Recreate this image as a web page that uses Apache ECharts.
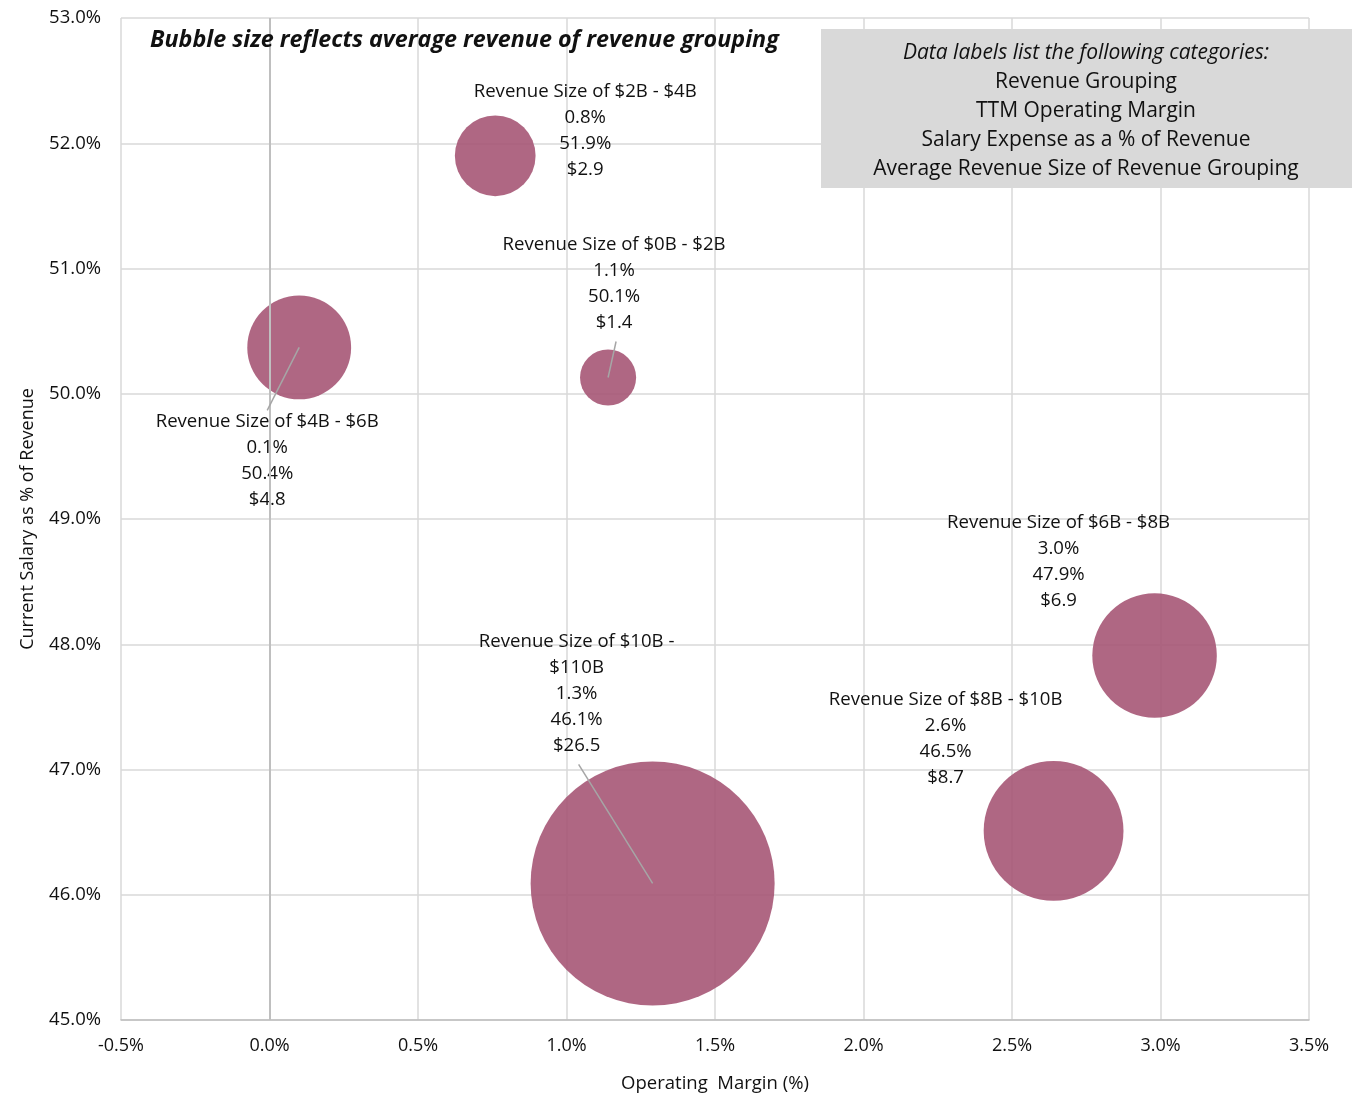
<!DOCTYPE html>
<html>
<head>
<meta charset="utf-8">
<title>Operating Margin vs Salary Expense by Revenue Grouping</title>
<script src="https://cdn.jsdelivr.net/npm/echarts@6/dist/echarts.min.js"></script>
<style>
  html, body { margin: 0; padding: 0; background: #ffffff; }
  #chart { width: 1364px; height: 1094px; }
</style>
</head>
<body>
<div id="chart"></div>
<script>
// Revenue groupings and their metrics
const groups = ['Revenue Size of $2B - $4B', 'Revenue Size of $0B - $2B', 'Revenue Size of $4B - $6B',
                'Revenue Size of $6B - $8B', 'Revenue Size of $8B - $10B', 'Revenue Size of $10B -\n$110B'];
const operatingMargin = [0.76, 1.14, 0.10, 2.98, 2.64, 1.29];     // TTM operating margin, %
const salaryPct = [51.9, 50.13, 50.37, 47.91, 46.51, 46.09];      // salary expense as % of revenue
const avgRevenue = [2.9, 1.4, 4.8, 6.9, 8.7, 26.5];               // average revenue, $B
const marginLabels = ['0.8%', '1.1%', '0.1%', '3.0%', '2.6%', '1.3%'];
const salaryLabels = ['51.9%', '50.1%', '50.4%', '47.9%', '46.5%', '46.1%'];
const xTicks = ['-0.5%', '0.0%', '0.5%', '1.0%', '1.5%', '2.0%', '2.5%', '3.0%', '3.5%'];
const yTicks = ['45.0%', '46.0%', '47.0%', '48.0%', '49.0%', '50.0%', '51.0%', '52.0%', '53.0%'];

// Label placement per grouping (pixel offsets of the label centre from the bubble centre)
const labelOffsets = [[90, -25], [6, -94], [-32, 113], [-96, -94], [-108, -92], [-76, -190]];
// Which labels get a leader line back to the bubble
const leaderLines = [false, true, true, false, false, true];

const FONT = '"Open Sans", "Noto Sans", sans-serif';
const BUBBLE = 'rgba(166, 86, 117, 0.9)';
const LINE_H = 26;
const TEXT = '#111111';

const chart = echarts.init(document.getElementById('chart'), null, { renderer: 'canvas' });

const bubbleScale = 47.4; // diameter in px per sqrt($B)

const seriesData = groups.map((g, i) => ({
  value: [operatingMargin[i], salaryPct[i], avgRevenue[i]],
  name: g,
  label: {
    show: true,
    position: 'inside',
    offset: labelOffsets[i],
    align: 'center',
    verticalAlign: 'middle',
    formatter: () => [g, marginLabels[i], salaryLabels[i], '$' + avgRevenue[i].toFixed(1)].join('\n')
  }
}));

const option = {
  backgroundColor: '#ffffff',
  animation: false,
  textStyle: { fontFamily: FONT },
  grid: { left: 121, right: 55, top: 18, bottom: 74, containLabel: false, outerBoundsMode: 'none' },
  xAxis: {
    type: 'value',
    min: -0.5, max: 3.5, interval: 0.5,
    name: 'Operating  Margin (%)',
    nameLocation: 'middle',
    nameGap: 54,
    nameTextStyle: { fontSize: 18.5, color: TEXT, fontFamily: FONT },
    axisLine: { show: true, onZero: false, lineStyle: { color: '#bfbfbf', width: 1.5 } },
    axisTick: { show: false },
    splitLine: { show: true, lineStyle: { color: '#d9d9d9', width: 1.5 } },
    axisLabel: {
      fontSize: 18, color: TEXT, margin: 17, fontFamily: FONT,
      formatter: v => xTicks[Math.round((v + 0.5) / 0.5)]
    }
  },
  yAxis: {
    type: 'value',
    min: 45, max: 53, interval: 1,
    name: 'Current Salary as % of Revenue',
    nameLocation: 'middle',
    nameGap: 84,
    nameRotate: 90,
    nameTextStyle: { fontSize: 18, color: TEXT, fontFamily: FONT },
    axisLine: { show: false },
    axisTick: { show: false },
    splitLine: { show: true, lineStyle: { color: '#d9d9d9', width: 1.5 } },
    axisLabel: {
      fontSize: 18.5, color: TEXT, margin: 20, fontFamily: FONT,
      formatter: v => yTicks[Math.round(v - 45)]
    }
  },
  series: [
    {
      // vertical axis crossing at 0% operating margin
      type: 'line',
      silent: true,
      data: [],
      markLine: {
        symbol: 'none',
        silent: true,
        label: { show: false },
        lineStyle: { color: '#bfbfbf', width: 2, type: 'solid' },
        data: [{ xAxis: 0 }]
      }
    },
    {
      type: 'scatter',
      data: seriesData,
      symbol: 'circle',
      symbolSize: d => bubbleScale * Math.sqrt(d[2]),
      itemStyle: { color: BUBBLE, opacity: 1 },
      label: {
        color: TEXT,
        fontSize: 18.6,
        lineHeight: LINE_H,
        fontFamily: FONT,
        textBorderWidth: 0,
        textBorderColor: 'transparent'
      },
      emphasis: { disabled: true },
      z: 3
    }
  ],
  graphic: []
};

chart.setOption(option);

// Leader lines, headline note and category key
function drawExtras() {
  const elements = [];
  groups.forEach((g, i) => {
    if (!leaderLines[i]) return;
    const c = chart.convertToPixel({ seriesIndex: 1 }, [operatingMargin[i], salaryPct[i]]);
    const lines = g.split('\n').length + 3;
    const half = lines * LINE_H / 2;
    const off = labelOffsets[i];
    const lx = c[0] + off[0];
    const ly = off[1] < 0 ? c[1] + off[1] + half + 6 : c[1] + off[1] - half + 2;
    elements.push({
      type: 'line',
      shape: { x1: c[0], y1: c[1], x2: lx + (off[1] < 0 ? 2 : 0), y2: ly },
      style: { stroke: '#a6a6a6', lineWidth: 1.5 },
      z: 100
    });
  });
  elements.push({
    type: 'text',
    left: 150, top: 29,
    style: {
      text: 'Bubble size reflects average revenue of revenue grouping',
      fontSize: 23.3, fontWeight: 'bold', fontStyle: 'italic', fontFamily: FONT, fill: TEXT
    },
    z: 100
  });
  elements.push({
    type: 'rect', left: 821, top: 29, z: 100,
    shape: { width: 531, height: 159 }, style: { fill: '#d9d9d9' }
  });
  elements.push({
    type: 'text', x: 1086, y: 39, z: 101,
    style: {
      text: 'Data labels list the following categories:',
      align: 'center', fontSize: 21, fontStyle: 'italic', fontFamily: FONT, fill: TEXT,
      lineHeight: 29
    }
  });
  elements.push({
    type: 'text', x: 1086, y: 68, z: 101,
    style: {
      text: 'Revenue Grouping\nTTM Operating Margin\nSalary Expense as a % of Revenue\nAverage Revenue Size of Revenue Grouping',
      align: 'center', fontSize: 21, fontFamily: FONT, fill: TEXT, lineHeight: 29
    }
  });
  chart.setOption({ graphic: elements });
}
drawExtras();
</script>
</body>
</html>
